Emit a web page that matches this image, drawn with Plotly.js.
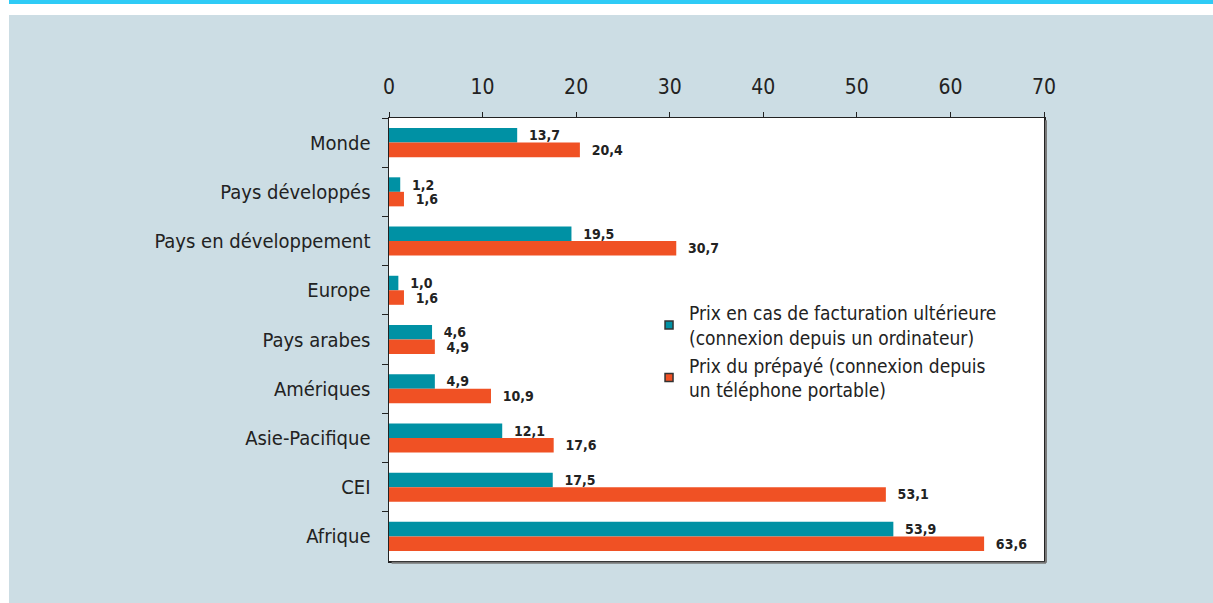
<!DOCTYPE html>
<html>
<head>
<meta charset="utf-8">
<script src="https://cdn.plot.ly/plotly-3.0.1.min.js"></script>
<style>
  body { margin: 0; background: #ffffff; }
  #wrap { position: absolute; left: 9px; top: 0; width: 1204px; }
  #stripe { height: 4px; background: #2ecbf6; }
  #gap { height: 11px; background: #ffffff; }
  #chart { width: 1204px; height: 588px; }
</style>
</head>
<body>
<div id="wrap">
  <div id="stripe"></div>
  <div id="gap"></div>
  <div id="chart"></div>
</div>
<script>
// Regions, top to bottom
const regions = ['Monde', 'Pays développés', 'Pays en développement', 'Europe', 'Pays arabes',
    'Amériques', 'Asie-Pacifique', 'CEI', 'Afrique'];

// Prix en cas de facturation ultérieure (ordinateur)
const postpaid = [13.7, 1.2, 19.5, 1.0, 4.6, 4.9, 12.1, 17.5, 53.9];
// Prix du prépayé (téléphone portable)
const prepaid = [20.4, 1.6, 30.7, 1.6, 4.9, 10.9, 17.6, 53.1, 63.6];

const xTicks = [0, 10, 20, 30, 40, 50, 60, 70];

const TEAL = '#0091a4';
const ORANGE = '#f05124';
const FONT = '"DejaVu Sans Condensed", "Liberation Sans Narrow", Arial, sans-serif';

const fmt = v => '  ' + v.toFixed(1).replace('.', ',');

const barCommon = {
    type: 'bar',
    orientation: 'h',
    y: regions,
    textposition: 'outside',
    constraintext: 'none',
    cliponaxis: false,
    textfont: { family: FONT, size: 14, color: '#222222', weight: 'bold' },
    showlegend: false,
    hoverinfo: 'skip'
};

const traceA = Object.assign({}, barCommon, {
    x: postpaid,
    text: postpaid.map(fmt),
    marker: { color: TEAL, line: { width: 0 } }
});

const traceB = Object.assign({}, barCommon, {
    x: prepaid,
    text: prepaid.map(fmt),
    marker: { color: ORANGE, line: { width: 0 } }
});

// legend entries with the small outlined squares
const legA = {
    type: 'scatter', mode: 'markers', x: [null], y: [null],
    name: 'Prix en cas de facturation ultérieure<br>(connexion depuis un ordinateur)',
    marker: { symbol: 'square', size: 8, color: TEAL, line: { width: 1.5, color: '#333333' } }
};
const legB = {
    type: 'scatter', mode: 'markers', x: [null], y: [null],
    name: 'Prix du prépayé (connexion depuis<br>un téléphone portable)',
    marker: { symbol: 'square', size: 8, color: ORANGE, line: { width: 1.5, color: '#333333' } }
};

const layout = {
    paper_bgcolor: '#ccdde4',
    plot_bgcolor: '#ffffff',
    font: { family: FONT, color: '#222222', size: 18 },
    margin: { t: 103, r: 169, b: 42, l: 380 },
    barmode: 'group',
    bargap: 0.41,
    bargroupgap: 0,
    xaxis: {
        side: 'top',
        range: [0, 70],
        tickvals: xTicks,
        ticks: 'outside',
        ticklen: 5,
        tickcolor: '#222222',
        ticklabelstandoff: 9,
        tickfont: { size: 21, family: FONT },
        showgrid: false,
        zeroline: false,
        showline: true,
        linecolor: '#222222',
        linewidth: 1.5,
        mirror: true,
        fixedrange: true
    },
    yaxis: {
        type: 'category',
        autorange: 'reversed',
        ticks: 'outside',
        tickson: 'boundaries',
        ticklen: 6,
        tickcolor: '#222222',
        ticklabelstandoff: 13,
        tickfont: { size: 20, family: FONT },
        showgrid: false,
        showline: true,
        linecolor: '#222222',
        linewidth: 1.5,
        mirror: true,
        fixedrange: true
    },
    legend: {
        x: 0.397, y: 0.603,
        xanchor: 'left', yanchor: 'top',
        bgcolor: 'rgba(0,0,0,0)',
        font: { size: 19, family: FONT, color: '#222222' },
        tracegroupgap: 0,
        itemwidth: 30
    },
    shapes: [
        { type: 'line', xref: 'paper', yref: 'paper', x0: 1.003, x1: 1.003, y0: -0.004, y1: 0.995,
          line: { color: '#777777', width: 2 } },
        { type: 'line', xref: 'paper', yref: 'paper', x0: 0.004, x1: 1.003, y0: -0.004, y1: -0.004,
          line: { color: '#777777', width: 2 } }
    ]
};

Plotly.newPlot('chart', [traceA, traceB, legA, legB], layout, { displayModeBar: false, staticPlot: true });
</script>
</body>
</html>
